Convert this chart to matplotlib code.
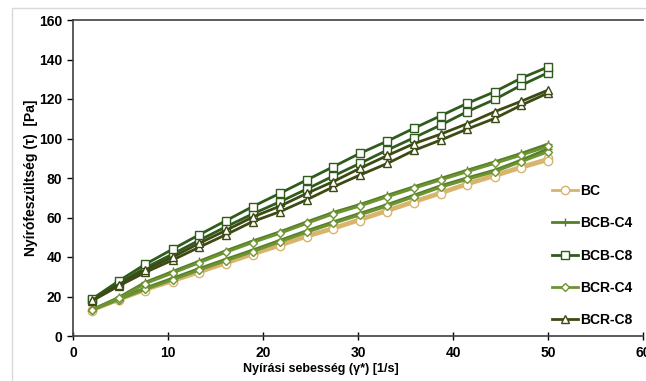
import matplotlib
matplotlib.use("Agg")
import matplotlib.pyplot as plt
from matplotlib.patches import Rectangle

shear_rate = [2.0, 4.8, 7.6, 10.5, 13.3, 16.1, 18.9, 21.8, 24.6, 27.4,
              30.2, 33.1, 35.9, 38.7, 41.5, 44.4, 47.2, 50.0]

bc_a = [12.8, 18.0, 23.0, 27.5, 32.0, 36.5, 41.0, 45.5, 50.0, 54.0,
        58.4, 63.0, 67.5, 71.9, 76.5, 80.7, 84.9, 88.8]
bc_b = [13.0, 18.4, 23.6, 28.2, 32.8, 37.3, 41.9, 46.4, 51.0, 55.0,
        59.4, 64.0, 68.5, 72.9, 77.5, 81.8, 86.0, 90.0]
bcb_c4_a = [13.4, 19.5, 27.2, 32.7, 37.9, 43.2, 48.1, 52.8, 57.8, 62.6,
            66.6, 71.3, 75.6, 79.8, 84.0, 88.2, 92.5, 97.2]
bcb_c4_b = [13.2, 18.9, 24.3, 29.3, 34.2, 38.9, 43.5, 48.5, 53.3, 57.8,
            62.1, 66.6, 71.3, 76.1, 80.1, 84.0, 89.1, 94.8]
bcb_c8_a = [18.7, 27.8, 36.3, 44.0, 51.3, 58.4, 65.5, 72.3, 79.0, 85.7,
            92.5, 98.7, 105.2, 111.5, 117.8, 123.7, 130.6, 136.2]
bcb_c8_b = [18.3, 26.5, 34.5, 41.5, 48.5, 55.3, 61.8, 68.0, 74.4, 81.0,
            87.4, 94.2, 100.4, 106.8, 113.6, 119.8, 127.0, 133.3]
bcr_c4_a = [13.2, 19.0, 26.5, 31.9, 37.1, 42.4, 47.3, 52.0, 57.0, 61.8,
            65.8, 70.5, 74.8, 79.0, 83.2, 87.4, 91.6, 96.0]
bcr_c4_b = [13.0, 18.4, 23.6, 28.5, 33.4, 38.1, 42.7, 47.7, 52.5, 57.0,
            61.3, 65.8, 70.5, 75.3, 79.3, 83.2, 88.3, 93.3]
bcr_c8_a = [18.0, 26.0, 33.5, 40.0, 47.0, 53.5, 60.2, 65.8, 72.2, 78.2,
            84.9, 91.4, 97.4, 102.2, 107.5, 113.6, 118.9, 124.5]
bcr_c8_b = [17.8, 25.3, 32.2, 38.5, 45.0, 51.3, 57.9, 63.0, 69.0, 75.5,
            81.5, 87.4, 94.0, 99.2, 104.8, 110.2, 116.9, 123.0]

labels = ["BC", "BCB-C4", "BCB-C8", "BCR-C4", "BCR-C8"]
x_ticks = [0, 10, 20, 30, 40, 50, 60]
y_ticks = [0, 20, 40, 60, 80, 100, 120, 140, 160]

plt.rcParams['font.family'] = ['Liberation Sans', 'DejaVu Sans']

W, H = 646, 381
fig = plt.figure(figsize=(W / 100, H / 100), dpi=100)
fig.patches.append(Rectangle((12 / W, -0.1), 1.0, 1 - 8 / H + 0.1,
                             transform=fig.transFigure, fill=False,
                             edgecolor='#d9d9d9', linewidth=1.0))
ax = fig.add_axes([73 / W, 1 - 336 / H, 570 / W, 316 / H])

series = [
    (bc_a, bc_b, '#d8b46c', 'o', labels[0]),
    (bcb_c4_a, bcb_c4_b, '#557f2a', '+', labels[1]),
    (bcb_c8_a, bcb_c8_b, '#2f5b1d', 's', labels[2]),
    (bcr_c4_a, bcr_c4_b, '#6e9432', 'D', labels[3]),
    (bcr_c8_a, bcr_c8_b, '#3c4a14', '^', labels[4]),
]
order = [0, 1, 3, 2, 4]
handles = {}
for i in order:
    a, b, col, mk, lab = series[i]
    ms = 6 if mk != 'D' else 4.5
    for j, vals in enumerate((b, a)):
        line, = ax.plot(shear_rate, vals, color=col, linewidth=2.0,
                        marker=mk, markersize=ms, markerfacecolor='white',
                        markeredgecolor=col, markeredgewidth=1.0,
                        label=lab if j == 0 else None, zorder=3 + i)
        if j == 0:
            handles[lab] = line

ax.set_xlim(0, 60)
ax.set_ylim(0, 160)
ax.set_xticks(x_ticks)
ax.set_yticks(y_ticks)
ax.set_xticklabels([str(v) for v in x_ticks], fontweight='bold', fontsize=10)
ax.set_yticklabels([str(v) for v in y_ticks], fontweight='bold', fontsize=10)
ax.tick_params(axis='x', direction='inout', length=6, width=1, pad=4)
ax.tick_params(axis='y', direction='out', length=4, width=1, pad=4)
for s in ax.spines.values():
    s.set_color('#404040')
    s.set_linewidth(1.2)
ax.spines['right'].set_visible(False)

ax.set_xlabel("Nyírási sebesség (γ*) [1/s]", fontweight='bold', fontsize=9)
ax.xaxis.set_label_coords((321 - 73) / 570, -(363 - 336) / 316)
ax.set_ylabel("Nyírófeszültség (τ)  [Pa]", fontweight='bold', fontsize=10)
ax.yaxis.set_label_coords(-(73 - 38) / 570, 0.5)

leg = ax.legend([handles[l] for l in labels], labels, loc='upper left',
                bbox_to_anchor=((552 - 73) / 570, (336 - 184) / 316),
                frameon=False, numpoints=1, handlelength=1.85,
                handletextpad=0.2, labelspacing=1.32, borderpad=0,
                borderaxespad=0,
                prop={'weight': 'bold', 'size': 10})

fig.savefig("out.png", dpi=100)
